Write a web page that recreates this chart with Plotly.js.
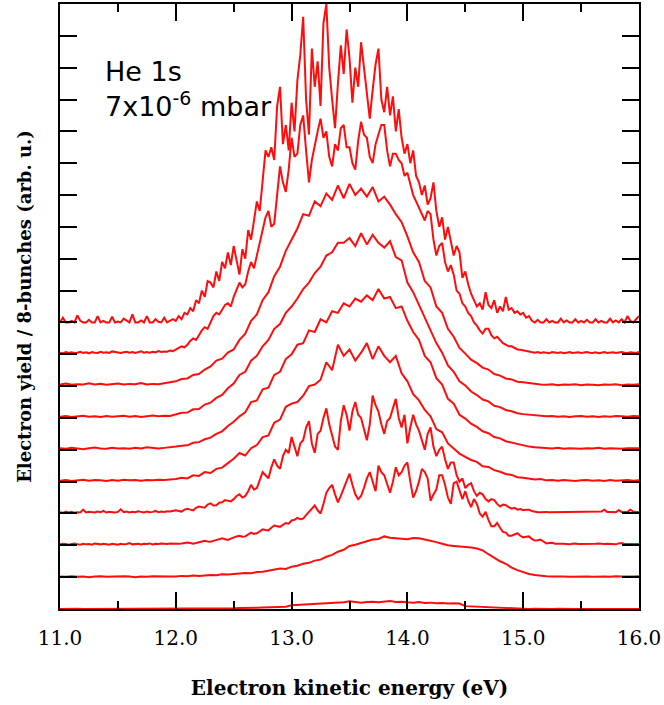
<!DOCTYPE html>
<html>
<head>
<meta charset="utf-8">
<script src="https://cdn.plot.ly/plotly-3.0.1.min.js"></script>
<style>html,body{margin:0;padding:0;background:#fff;}#chart{width:664px;height:705px;}</style>
</head>
<body>
<div id="chart"></div>
<script>
// Energy range covered by every spectrum (eV); points are evenly spaced over it
const energyStart = 11.0;
const energyEnd = 16.0;

// Vertical offsets of the stacked spectra (arb. u.)
const offsets = [0, 1, 2, 3, 4, 5, 6, 7, 8, 9];

// Electron yield of each spectrum above its own baseline (arb. u.), bottom to top
// (yield0, 1, 4-7: 0.05 eV sampling; yield2, 3, 8, 9: 0.025 eV sampling)
const yield0 = [0,0.01,0,0.01,0,0,0.01,0,0,0.01,0,0,0.01,0,0,0,0.01,0,0,0.01,
  0,0,0.01,0,0.01,0.01,0,0.01,0.02,0.01,
  0.02,0.03,0.03,0.02,0.04,0.05,0.05,0.06,0.07,0.07,
  0.12,0.13,0.14,0.15,0.15,0.17,0.18,0.17,0.2,0.21,
  0.24,0.21,0.2,0.22,0.23,0.21,0.24,0.25,0.22,0.23,
  0.21,0.2,0.22,0.19,0.2,0.18,0.19,0.17,0.18,0.17,
  0.09,0.08,0.07,0.06,0.05,0.04,0.03,0.03,0.02,0.01,
  0,0,0.01,0,0,0,0.01,0,0,0,0,0.01,0,0,0,0.01,0,0,0,0,0];
const yield1 = [0.02,0.01,0.03,0.01,0.02,0,0.02,0.03,0.01,0.02,0.01,0.03,0.02,0,0.02,0.01,0.03,0.02,0.01,0.02,
  0.02,0.04,0.03,0.05,0.04,0.06,0.07,0.06,0.09,0.08,
  0.1,0.12,0.13,0.12,0.16,0.17,0.2,0.24,0.27,0.26,
  0.33,0.36,0.42,0.45,0.52,0.55,0.64,0.7,0.8,0.86,
  0.98,1.02,1.08,1.12,1.18,1.2,1.28,1.24,1.22,1.2,
  1.19,1.23,1.22,1.18,1.15,1.1,1.05,1.0,0.98,0.97,
  0.95,0.93,0.9,0.84,0.72,0.6,0.5,0.42,0.3,0.22,
  0.15,0.1,0.07,0.04,0.03,0.02,0.03,0.02,0.01,0.02,0.03,0.02,0.01,0.02,0.02,0.01,0.03,0.02,0.01,0.02,0.03];
const yield2 = [0.03,0.05,0.04,0.02,0.04,0.06,0.03,0.02,0.05,0.03,0.04,0.02,0.06,0.04,0.03,0.05,0.04,0.02,0.05,0.04,
  0.02,0.05,0.03,0.04,0.07,0.03,0.04,0.05,0.03,0.05,0.04,0.06,0.03,0.05,0.04,0.06,0.05,0.04,0.06,0.05,
  0.04,0.05,0.06,0.08,0.09,0.07,0.05,0.07,0.1,0.12,0.14,0.12,0.11,0.14,0.16,0.2,0.22,0.19,0.17,0.21,
  0.25,0.28,0.3,0.27,0.28,0.34,0.4,0.36,0.38,0.44,0.5,0.48,0.47,0.55,0.62,0.6,0.58,0.64,0.7,0.68,
  0.78,0.8,0.86,0.82,0.84,0.95,1.05,1.15,1.25,1.1,1.0,1.3,1.65,1.8,1.9,1.6,1.35,1.55,1.8,2.0,
  2.25,1.9,1.6,1.45,1.55,1.8,2.1,2.3,2.0,1.7,2.5,2.3,2.2,1.9,1.65,2.0,2.45,2.2,2.3,2.5,
  2.6,2.0,1.5,1.7,2.0,2.4,2.3,2.1,1.4,1.6,1.75,2.2,2.2,1.9,1.5,1.3,1.95,2.0,1.7,1.45,
  1.7,1.4,1.2,1.45,1.3,1.0,0.9,1.05,0.8,0.6,0.6,0.7,0.55,0.42,0.4,0.3,0.3,0.35,0.38,0.3,
  0.25,0.27,0.28,0.2,0.15,0.16,0.18,0.12,0.06,0.07,0.08,0.05,0.04,0.05,0.05,0.04,0.03,0.05,0.06,0.04,
  0.04,0.05,0.05,0.03,0.03,0.05,0.06,0.04,0.04,0.05,0.05,0.03,0.03,0.06,0.07,0.04,0.04,0.05,0.05,0.04,
  0.04];
const yield3 = [0.04,0.02,0.06,0.03,0.05,0.02,0.04,0.03,0.12,0.03,0.05,0.04,0.03,0.06,0.04,0.08,0.03,0.05,0.04,0.03,
  0.05,0.13,0.04,0.06,0.03,0.05,0.04,0.07,0.05,0.03,0.06,0.04,0.05,0.08,0.04,0.06,0.05,0.07,0.06,0.08,
  0.1,0.08,0.06,0.12,0.15,0.12,0.1,0.18,0.22,0.2,0.18,0.28,0.32,0.25,0.26,0.34,0.35,0.42,0.4,0.38,
  0.45,0.55,0.6,0.5,0.55,0.7,0.9,0.75,0.8,1.05,1.3,1.2,1.1,1.45,1.7,1.5,1.4,1.8,2.0,1.9,
  2.4,2.1,1.8,2.2,2.3,2.7,2.9,2.2,1.9,2.5,2.6,3.0,3.3,2.8,2.4,2.1,2.0,2.9,3.4,3.1,
  2.6,3.2,3.5,3.1,3.0,2.6,2.3,2.8,3.7,3.4,3.2,2.8,2.5,2.9,3.0,3.3,3.6,3.0,2.7,3.1,
  2.2,2.7,3.1,2.8,2.6,2.3,2.0,2.5,2.7,2.1,1.8,2.0,2.1,1.7,1.4,1.6,1.6,1.2,1.0,1.1,
  0.8,0.9,0.95,0.7,0.55,0.65,0.6,0.45,0.38,0.45,0.42,0.3,0.22,0.28,0.26,0.2,0.15,0.18,0.12,0.14,
  0.1,0.12,0.12,0.08,0.05,0.04,0.04,0.05,0.05,0.04,0.04,0.05,0.05,0.05,0.05,0.05,0.05,0.04,0.04,0.05,
  0.05,0.05,0.05,0.04,0.04,0.05,0.05,0.06,0.12,0.05,0.05,0.04,0.04,0.1,0.05,0.05,0.05,0.12,0.06,0.05,
  0.05];
const yield4 = [0.03,0.05,0.02,0.04,0.06,0.03,0.05,0.04,0.02,0.05,0.03,0.06,0.04,0.05,0.03,0.05,0.04,0.06,0.05,0.07,
  0.08,0.12,0.1,0.2,0.18,0.3,0.27,0.4,0.44,0.58,
  0.72,0.9,0.82,1.05,1.15,1.4,1.45,1.85,1.95,2.35,
  2.45,2.5,2.7,3.0,3.05,3.2,3.75,3.5,4.3,3.95,
  4.15,3.8,4.05,4.35,3.85,4.25,3.95,3.75,3.95,3.4,
  3.15,2.75,2.55,2.25,2.05,1.65,1.55,1.2,1.05,0.88,
  0.78,0.68,0.62,0.48,0.46,0.36,0.31,0.24,0.21,0.14,
  0.12,0.1,0.07,0.08,0.04,0.05,0.03,0.05,0.04,0.02,0.04,0.05,0.03,0.04,0.02,0.05,0.03,0.04,0.05,0.03,0.04];
const yield5 = [0.05,0.03,0.06,0.04,0.02,0.05,0.07,0.04,0.03,0.06,0.04,0.05,0.03,0.06,0.04,0.08,0.05,0.04,0.06,0.07,
  0.1,0.13,0.14,0.22,0.24,0.33,0.38,0.5,0.58,0.75,
  0.88,1.05,1.18,1.5,1.55,1.9,1.95,2.35,2.45,2.85,
  3.0,3.3,3.35,3.75,3.7,4.1,4.0,4.35,4.3,4.6,
  4.5,4.75,4.65,4.85,4.7,5.05,4.75,4.8,4.45,4.5,
  4.05,3.7,3.45,2.95,2.75,2.25,2.05,1.6,1.45,1.1,
  0.98,0.82,0.72,0.58,0.52,0.4,0.36,0.27,0.23,0.17,
  0.14,0.1,0.08,0.06,0.05,0.04,0.06,0.03,0.05,0.04,0.03,0.05,0.04,0.06,0.03,0.05,0.04,0.03,0.05,0.06,0.05];
const yield6 = [0.04,0.06,0.03,0.05,0.07,0.04,0.05,0.03,0.06,0.04,0.05,0.07,0.04,0.06,0.03,0.05,0.08,0.05,0.07,0.06,
  0.12,0.16,0.17,0.27,0.28,0.42,0.48,0.63,0.72,0.93,
  1.08,1.35,1.45,1.8,1.95,2.25,2.45,2.8,2.95,3.3,
  3.5,3.75,4.05,4.25,4.55,4.75,5.1,5.2,5.5,5.5,
  5.65,5.4,5.8,5.45,5.75,5.5,5.35,5.55,5.05,4.95,
  4.25,3.95,3.55,3.15,2.75,2.35,2.05,1.65,1.45,1.15,
  1.02,0.83,0.72,0.58,0.52,0.38,0.34,0.25,0.21,0.15,
  0.12,0.1,0.08,0.06,0.05,0.06,0.04,0.05,0.03,0.05,0.06,0.04,0.05,0.03,0.05,0.04,0.06,0.05,0.04,0.06,0.05];
const yield7 = [0.05,0.08,0.04,0.06,0.05,0.09,0.05,0.07,0.04,0.06,0.08,0.05,0.07,0.06,0.1,0.05,0.07,0.06,0.09,0.12,
  0.15,0.22,0.24,0.35,0.38,0.52,0.62,0.8,0.86,1.05,
  1.15,1.45,1.65,2.05,2.25,2.7,2.95,3.45,3.75,4.25,
  4.6,4.95,5.4,5.35,5.8,5.65,6.05,5.85,6.3,5.9,
  6.35,6.0,6.2,5.95,6.25,5.8,5.95,5.7,5.4,5.15,
  4.7,4.2,3.9,3.3,3.1,2.5,2.3,1.8,1.55,1.2,
  1.02,0.83,0.72,0.58,0.52,0.38,0.33,0.24,0.21,0.14,
  0.12,0.09,0.07,0.05,0.04,0.06,0.03,0.05,0.04,0.06,0.03,0.05,0.04,0.03,0.05,0.04,0.06,0.03,0.05,0.04,0.06];
const yield8 = [0.05,0.03,0.07,0.04,0.06,0.03,0.05,0.08,0.04,0.06,0.03,0.07,0.05,0.04,0.08,0.05,0.06,0.04,0.09,0.07,
  0.05,0.04,0.06,0.08,0.05,0.07,0.04,0.06,0.09,0.05,0.07,0.05,0.08,0.06,0.1,0.07,0.09,0.08,0.12,0.1,
  0.15,0.2,0.25,0.22,0.3,0.42,0.5,0.45,0.6,0.75,0.85,0.8,1.0,1.2,1.3,1.25,1.4,1.55,1.6,1.5,
  1.8,2.0,2.25,2.1,2.2,2.6,2.9,2.7,3.1,3.5,3.8,4.3,4.5,4.0,4.1,5.0,5.9,5.4,5.1,5.8,
  6.8,6.2,6.3,7.2,7.5,6.4,5.4,6.1,6.6,7.0,7.4,6.8,7.0,6.2,5.9,6.6,6.4,7.1,7.2,6.5,
  6.5,6.0,5.8,6.7,7.3,6.9,6.8,6.2,6.0,6.6,6.9,7.2,7.2,6.4,5.9,6.3,6.3,6.1,6.0,5.6,
  5.7,5.3,5.0,4.8,4.6,4.4,4.2,4.5,4.4,3.6,3.1,3.4,3.5,2.9,2.6,2.8,2.5,2.0,1.9,1.6,
  1.5,1.3,1.2,1.0,0.9,0.75,0.65,0.8,0.8,0.6,0.5,0.55,0.45,0.35,0.3,0.25,0.25,0.2,0.15,0.14,
  0.12,0.1,0.08,0.06,0.05,0.07,0.04,0.06,0.05,0.03,0.07,0.05,0.04,0.06,0.03,0.05,0.07,0.04,0.05,0.06,
  0.04,0.05,0.07,0.05,0.04,0.06,0.03,0.05,0.07,0.04,0.05,0.06,0.04,0.05,0.07,0.05,0.04,0.06,0.05,0.04,
  0.07];
const yield9 = [0,0.15,0,0,0.05,0,0.22,0.05,0,0,0.08,0,0,0.2,0,0.05,0,0,0.18,0,
  0.03,0,0.12,0.05,0,0.25,0,0,0.06,0,0.2,0,0,0.1,0.02,0,0.15,0,0.05,0.1,
  0.05,0.2,0.1,0.3,0.25,0.45,0.35,0.7,0.6,1.0,0.8,1.3,1.25,1.1,1.6,1.3,1.9,1.7,2.2,1.8,
  2.4,2.0,1.5,2.3,2.0,2.9,2.6,3.2,3.8,3.5,4.4,5.4,5.2,5.5,5.1,6.8,7.4,5.6,6.2,5.4,
  6.9,6.0,7.6,8.4,9.6,7.0,5.9,8.6,7.4,8.2,6.8,9.4,10.0,8.0,7.0,6.1,7.5,8.7,7.8,9.2,
  8.3,6.9,8.0,7.4,8.8,8.0,7.2,6.4,7.3,8.1,8.6,7.0,6.6,7.4,6.5,7.1,6.0,6.7,5.8,5.3,
  5.6,5.0,5.4,4.6,4.4,4.0,4.3,3.7,3.9,4.4,3.5,3.0,3.3,2.6,3.0,2.5,2.1,2.4,2.2,1.4,
  1.6,1.2,0.9,0.7,0.5,0.6,0.4,0.95,0.55,0.45,0.7,0.3,0.5,0.35,0.8,0.4,0.45,0.3,0.35,0.25,
  0.3,0.15,0.2,0.05,0,0.08,0,0,0.1,0,0.05,0,0,0.12,0,0.06,0,0,0.1,0,
  0.05,0,0.08,0,0,0.1,0,0.05,0,0,0.12,0,0.06,0,0.1,0,0.2,0.05,0,0.1,
  0.2];

const spectra = [yield0, yield1, yield2, yield3, yield4, yield5, yield6, yield7, yield8, yield9];

// X tick labels: major every 1 eV written as "11.0" ... "16.0", minor every 0.5 eV
const xTickFormat = '.1f';
const xMajorStep = 1;
const xMinorStep = 0.5;

const traces = spectra.map((vals, k) => {
  const step = (energyEnd - energyStart) / (vals.length - 1);
  return {
    type: 'scatter',
    mode: 'lines',
    x: vals.map((_, i) => energyStart + i * step),
    y: vals.map(v => v + offsets[k]),
    line: {color: '#ff0d0d', width: 2},
    hoverinfo: 'skip',
    showlegend: false
  };
});

const serif = 'DejaVu Serif, Liberation Serif, serif';

const layout = {
  width: 664, height: 705,
  margin: {l: 60, r: 25, t: 4, b: 96},
  paper_bgcolor: '#ffffff', plot_bgcolor: '#ffffff',
  showlegend: false,
  xaxis: {
    range: [energyStart, energyEnd],
    tickmode: 'linear', tick0: energyStart, dtick: xMajorStep, tickformat: xTickFormat,
    ticks: 'inside', ticklen: 17, tickwidth: 2, tickcolor: '#000',
    minor: {ticks: 'inside', dtick: xMinorStep, ticklen: 8, tickwidth: 2, tickcolor: '#000', showgrid: false},
    showline: true, linewidth: 2, linecolor: '#000', mirror: 'ticks',
    showgrid: false, zeroline: false, layer: 'above traces',
    tickfont: {family: serif, size: 20, color: '#000'},
    ticklabelstandoff: 10,
    title: {text: 'Electron kinetic energy (eV)', font: {family: serif, size: 20, color: '#000', weight: 'bold'}, standoff: 32}
  },
  yaxis: {
    range: [0, 19],
    tick0: 0, dtick: 1,
    ticks: 'inside', ticklen: 17, tickwidth: 2, tickcolor: '#000',
    showticklabels: false,
    showline: true, linewidth: 2, linecolor: '#000', mirror: 'ticks',
    showgrid: false, zeroline: false, layer: 'above traces',
    title: {text: 'Electron yield / 8-bunches (arb. u.)', font: {family: serif, size: 18, color: '#000', weight: 'bold'}, standoff: 22}
  },
  annotations: [{
    xref: 'paper', yref: 'paper', x: 0.075, y: 0.918,
    xanchor: 'left', yanchor: 'top', align: 'left', showarrow: false,
    text: 'He 1s<br>7x10<sup>-6</sup> mbar',
    font: {family: 'DejaVu Sans, Open Sans, sans-serif', size: 27, color: '#000'}
  }]
};

Plotly.newPlot('chart', traces, layout, {displayModeBar: false, staticPlot: true});
</script>
</body>
</html>
